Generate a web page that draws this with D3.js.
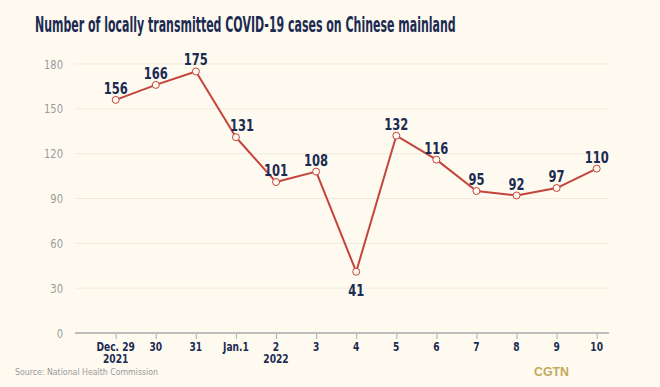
<!DOCTYPE html>
<html>
<head>
<meta charset="utf-8">
<script src="https://cdn.jsdelivr.net/npm/d3@7"></script>
<style>
  html, body { margin: 0; padding: 0; background: #fefaf0; }
  svg { display: block; }
</style>
</head>
<body>
<svg id="chart" width="660" height="387"></svg>
<script>
const categories = ["Dec. 29", "30", "31", "Jan.1", "2", "3", "4", "5", "6", "7", "8", "9", "10"];
const subLabels = ["2021", "", "", "", "2022", "", "", "", "", "", "", "", ""];
const cases = [156, 166, 175, 131, 101, 108, 41, 132, 116, 95, 92, 97, 110];
const labelPlacement = ["above", "above", "above", "right", "above", "above", "below", "above", "above", "above", "above", "above", "above"];
const yTicks = [0, 30, 60, 90, 120, 150, 180];

const titleText = "Number of locally transmitted COVID-19 cases on Chinese mainland";
const sourceText = "Source: National Health Commission";

const narrow = "'Liberation Sans Narrow', 'DejaVu Sans Condensed', 'Arial Narrow', sans-serif";
const navy = "#1c2b52";
const red = "#c4433a";

const svg = d3.select("#chart");
svg.append("rect").attr("width", 660).attr("height", 387).attr("fill", "#fefaf0");

// narrow the glyphs of a text selection by a factor
function condense(sel, f) {
  sel.each(function () {
    const w = this.getComputedTextLength();
    if (w > 0) d3.select(this).attr("textLength", w * f).attr("lengthAdjust", "spacingAndGlyphs");
  });
}

const x = d3.scalePoint().domain(categories).range([115.7, 596.7]);
const y = d3.scaleLinear().domain([0, 180]).range([333, 64]);
const gridX0 = 75, gridX1 = 609;

// title (horizontally scaled to the reference width)
const titleG = svg.append("g");
const title = titleG.append("text")
  .attr("x", 0).attr("y", 0)
  .attr("font-family", narrow).attr("font-weight", "bold")
  .attr("font-size", 22).attr("fill", navy)
  .text(titleText);
const tw = title.node().getComputedTextLength();
titleG.attr("transform", `translate(35,32) scale(${421 / tw},1)`);

// gridlines
svg.append("g").selectAll("line")
  .data(yTicks.filter(d => d > 0))
  .join("line")
  .attr("x1", gridX0).attr("x2", gridX1)
  .attr("y1", d => y(d)).attr("y2", d => y(d))
  .attr("stroke", "#f0ebdc").attr("stroke-width", 1);

// y labels
svg.append("g").selectAll("text")
  .data(yTicks)
  .join("text")
  .attr("x", 63).attr("y", d => y(d))
  .attr("dy", "0.35em")
  .attr("text-anchor", "end")
  .attr("font-family", narrow).attr("font-size", 13)
  .attr("fill", "#9a9a9a")
  .text(d => d)
  .call(condense, 0.85);

// x axis
const xAxis = d3.axisBottom(x).tickSize(6).tickFormat("");
const gx = svg.append("g").attr("transform", `translate(0,${y(0)})`).call(xAxis);
gx.select(".domain").remove();
gx.selectAll(".tick line").attr("stroke", "#b8b8b8").attr("stroke-width", 1.2);
svg.append("line")
  .attr("x1", gridX0).attr("x2", gridX1)
  .attr("y1", y(0)).attr("y2", y(0))
  .attr("stroke", "#bdbdbd").attr("stroke-width", 2);

const xl = svg.append("g");
xl.selectAll("text.cat")
  .data(categories.map((c, i) => ({ c, s: subLabels[i] })))
  .join("text").attr("class", "cat")
  .attr("y", 350.5)
  .attr("text-anchor", "middle")
  .attr("font-family", narrow).attr("font-weight", "bold")
  .attr("font-size", 11.5).attr("fill", navy)
  .each(function (d) {
    const t = d3.select(this);
    t.append("tspan").attr("x", x(d.c)).text(d.c);
    if (d.s) t.append("tspan").attr("x", x(d.c)).attr("dy", 12.5).text(d.s);
  })
  .call(sel => sel.selectAll("tspan").call(condense, 0.88));

// line
const data = categories.map((c, i) => ({ c, v: cases[i], p: labelPlacement[i] }));
svg.append("path")
  .datum(data)
  .attr("d", d3.line().x(d => x(d.c)).y(d => y(d.v)))
  .attr("fill", "none").attr("stroke", red).attr("stroke-width", 2)
  .attr("stroke-linejoin", "round");

svg.append("g").selectAll("circle")
  .data(data)
  .join("circle")
  .attr("cx", d => x(d.c)).attr("cy", d => y(d.v))
  .attr("r", 3.5)
  .attr("fill", "#fffaf2").attr("stroke", red).attr("stroke-width", 1);

// value labels
svg.append("g").selectAll("text")
  .data(data)
  .join("text")
  .attr("x", d => x(d.c) + (d.p === "right" ? 6 : 0))
  .attr("y", d => d.p === "below" ? y(d.v) + 24 : y(d.v) - 6)
  .attr("text-anchor", "middle")
  .attr("font-family", narrow).attr("font-weight", "bold")
  .attr("font-size", 16).attr("fill", navy)
  .text(d => d.v)
  .call(condense, 0.8);

// source
svg.append("text")
  .attr("x", 15).attr("y", 375)
  .attr("font-family", narrow).attr("font-size", 9.5)
  .attr("fill", "#999")
  .attr("textLength", 143).attr("lengthAdjust", "spacingAndGlyphs")
  .text(sourceText);

// watermark
svg.append("text")
  .attr("x", 534).attr("y", 376)
  .attr("font-family", "'Liberation Sans', Arial, sans-serif").attr("font-weight", "bold")
  .attr("font-size", 12.5).attr("fill", "#c4a95c")
  .attr("textLength", 35).attr("lengthAdjust", "spacingAndGlyphs")
  .text("CGTN");
</script>
</body>
</html>
